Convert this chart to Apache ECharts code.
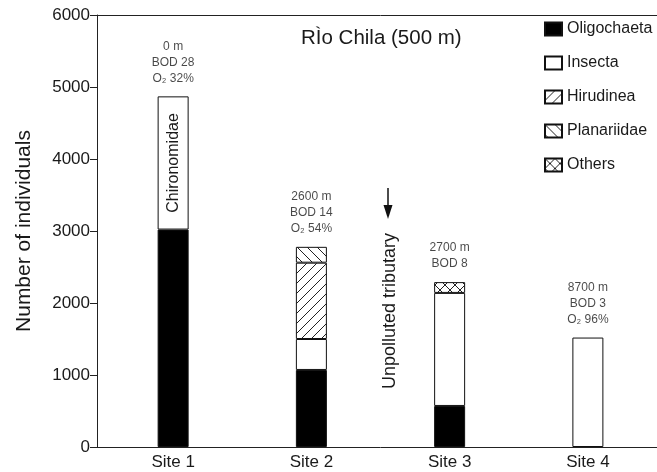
<!DOCTYPE html>
<html>
<head>
<meta charset="utf-8">
<script src="https://cdn.jsdelivr.net/npm/echarts@6/dist/echarts.min.js"></script>
<style>
html,body{margin:0;padding:0;background:#fff;}
#chart{width:657px;height:472px;}
</style>
</head>
<body>
<div id="chart"></div>
<script>
// ---- data ----
var categories = ['Site 1', 'Site 2', 'Site 3', 'Site 4'];
var oligochaeta = [3020, 1070, 570, 0];
var insecta = [1850, 430, 1570, 1520];
var hirudinea = [0, 1060, 0, 0];
var planariidae = [0, 220, 0, 0];
var others = [0, 0, 150, 0];
var siteNotes = [
  '0 m\nBOD 28\nO\u2082 32%',
  '2600 m\nBOD 14\nO\u2082 54%',
  '2700 m\nBOD 8',
  '8700 m\nBOD 3\nO\u2082 96%'
];
var yTicks = [0, 1000, 2000, 3000, 4000, 5000, 6000];
var insectaNote = ['Chironomidae', '', '', ''];

var FONT = '"Liberation Sans", Arial, Helvetica, sans-serif';
var TXT = '#1a1a1a';

function makePattern(kind) {
  var c = document.createElement('canvas');
  var s = 10;
  c.width = s; c.height = s;
  var g = c.getContext('2d');
  g.fillStyle = '#fff';
  g.fillRect(0, 0, s, s);
  g.strokeStyle = '#222';
  g.lineWidth = 1;
  function fwd() { // "/"
    g.beginPath();
    g.moveTo(-1, s + 1); g.lineTo(s + 1, -1);
    g.moveTo(-1, 1); g.lineTo(1, -1);
    g.moveTo(s - 1, s + 1); g.lineTo(s + 1, s - 1);
    g.stroke();
  }
  function back() { // "\"
    g.beginPath();
    g.moveTo(-1, -1); g.lineTo(s + 1, s + 1);
    g.moveTo(s - 1, -1); g.lineTo(s + 1, 1);
    g.moveTo(-1, s - 1); g.lineTo(1, s + 1);
    g.stroke();
  }
  if (kind === 'fwd') fwd();
  if (kind === 'back') back();
  if (kind === 'cross') { fwd(); back(); }
  return { image: c, repeat: 'repeat' };
}

function toBar(arr) {
  return arr.map(function (v) { return v === 0 ? '-' : v; });
}

var totals = categories.map(function (c, i) {
  return oligochaeta[i] + insecta[i] + hirudinea[i] + planariidae[i] + others[i];
});

var baseStyle = { borderColor: '#111', borderWidth: 1 };

function barSeries(name, arr, color) {
  return {
    name: name,
    type: 'bar',
    stack: 'total',
    barWidth: 31,
    data: toBar(arr),
    itemStyle: Object.assign({ color: color }, baseStyle),
    emphasis: { disabled: true },
    animation: false
  };
}

var insectaData = insecta.map(function (v, i) {
  if (insectaNote[i]) {
    return {
      value: v,
      label: {
        show: true, position: 'inside', rotate: 90,
        formatter: insectaNote[i], fontSize: 16, color: TXT, fontFamily: FONT
      }
    };
  }
  return v === 0 ? '-' : v;
});

var series = [
  barSeries('Oligochaeta', oligochaeta, '#000'),
  Object.assign(barSeries('Insecta', insecta, '#fff'), { data: insectaData }),
  barSeries('Hirudinea', hirudinea, makePattern('fwd')),
  barSeries('Planariidae', planariidae, makePattern('back')),
  barSeries('Others', others, makePattern('cross')),
  {
    name: 'notes',
    type: 'scatter',
    symbolSize: 0,
    data: totals.map(function (t, i) { return [i, t]; }),
    label: {
      show: true, position: 'top', distance: 10,
      formatter: function (p) { return siteNotes[p.dataIndex]; },
      fontSize: 12, lineHeight: 16, color: TXT, fontFamily: FONT, align: 'center'
    },
    silent: true,
    animation: false
  }
];

var chart = echarts.init(document.getElementById('chart'), null, { renderer: 'canvas' });
chart.setOption({
  backgroundColor: '#fff',
  animation: false,
  title: {
    text: 'R\u00CCo Chila (500 m)',
    left: 296, top: 23,
    textStyle: { fontSize: 20.5, fontWeight: 'normal', color: TXT, fontFamily: FONT }
  },
  legend: {
    orient: 'vertical',
    left: 539, top: 16,
    itemWidth: 17, itemHeight: 13,
    itemGap: 18,
    icon: 'rect',
    data: ['Oligochaeta', 'Insecta', 'Hirudinea', 'Planariidae', 'Others'],
    textStyle: { fontSize: 16, color: TXT, fontFamily: FONT },
    selectedMode: false
  },
  grid: { left: 104, right: -7, top: 15, bottom: 25, containLabel: false },
  xAxis: [{
    type: 'category',
    data: categories,
    axisLine: { show: true, lineStyle: { color: '#222', width: 1 } },
    axisTick: { show: false },
    axisLabel: { fontSize: 17, color: TXT, fontFamily: FONT, margin: 7 }
  }, {
    type: 'category',
    position: 'top',
    data: categories,
    axisLine: { show: true, lineStyle: { color: '#222', width: 1 } },
    axisTick: { show: false },
    axisLabel: { show: false }
  }],
  yAxis: {
    type: 'value',
    min: yTicks[0], max: yTicks[yTicks.length - 1], interval: 1000,
    offset: 7,
    name: 'Number of individuals',
    nameLocation: 'middle',
    nameGap: 62,
    nameTextStyle: { fontSize: 21, color: TXT, fontFamily: FONT },
    axisLine: { show: true, lineStyle: { color: '#222', width: 1 } },
    axisTick: { show: true, length: 7, lineStyle: { color: '#222' } },
    axisLabel: {
      fontSize: 17, color: TXT, fontFamily: FONT, margin: 7,
      formatter: function (v) { return String(v); }
    },
    splitLine: { show: false }
  },
  graphic: [
    { type: 'line', shape: { x1: 97, y1: 447.5, x2: 104, y2: 447.5 }, style: { stroke: '#222', lineWidth: 1 }, silent: true },
    { type: 'line', shape: { x1: 93, y1: 15.5, x2: 104, y2: 15.5 }, style: { stroke: '#222', lineWidth: 1 }, silent: true },
    { type: 'line', shape: { x1: 388, y1: 188, x2: 388, y2: 210 }, style: { stroke: '#111', lineWidth: 1.5 }, silent: true },
    { type: 'polygon', shape: { points: [[383.5, 205], [392.5, 205], [388, 219]] }, style: { fill: '#111' }, silent: true },
    {
      type: 'text', x: 390, y: 311, rotation: Math.PI / 2,
      style: {
        text: 'Unpolluted tributary', fontSize: 18, fontFamily: FONT, fill: TXT,
        align: 'center', verticalAlign: 'middle'
      },
      silent: true
    }
  ],
  series: series
});
</script>
</body>
</html>
